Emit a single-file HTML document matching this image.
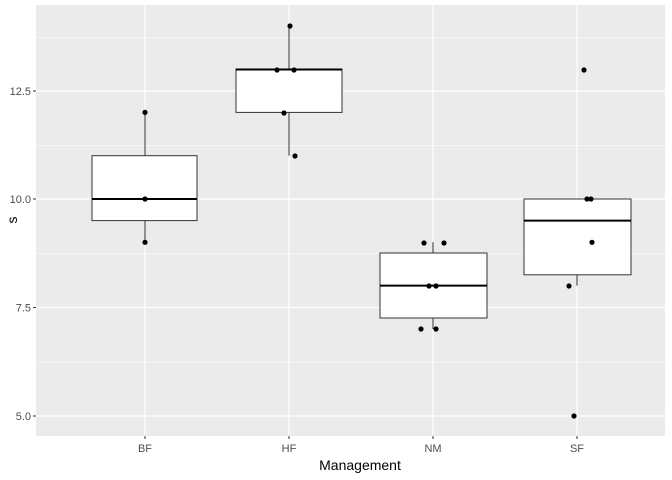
<!DOCTYPE html>
<html><head><meta charset="utf-8"><style>body{margin:0;background:#fff}svg{display:block;font-family:"Liberation Sans",sans-serif}</style></head><body>
<svg width="672" height="480" viewBox="0 0 672 480">
<rect x="0" y="0" width="672" height="480" fill="#fff"/>
<rect x="36" y="5" width="629" height="431" fill="#ebebeb"/>
<g stroke="#fff" stroke-width="0.6">
<line x1="36" x2="665" y1="37.5" y2="37.5"/><line x1="36" x2="665" y1="145.5" y2="145.5"/><line x1="36" x2="665" y1="253.5" y2="253.5"/><line x1="36" x2="665" y1="362" y2="362"/>
</g>
<g stroke="#fff" stroke-width="1.2">
<line x1="36" x2="665" y1="91" y2="91"/><line x1="36" x2="665" y1="199" y2="199"/><line x1="36" x2="665" y1="307.5" y2="307.5"/><line x1="36" x2="665" y1="416" y2="416"/>
<line x1="145" x2="145" y1="5" y2="436"/><line x1="289" x2="289" y1="5" y2="436"/><line x1="433" x2="433" y1="5" y2="436"/><line x1="577" x2="577" y1="5" y2="436"/>
</g>
<g stroke="#333" stroke-width="1" fill="#fff">
<line x1="145" x2="145" y1="112.4" y2="242.3"/>
<rect x="92" y="155.7" width="105" height="64.9"/>
<line x1="289" x2="289" y1="25.8" y2="155.7"/>
<rect x="236" y="69" width="106" height="43.4"/>
<line x1="433" x2="433" y1="242.3" y2="329"/>
<rect x="380" y="253" width="107" height="65"/>
<line x1="577" x2="577" y1="199" y2="285.6"/>
<rect x="524" y="199" width="107" height="75.8"/>
</g>
<g stroke="#000" stroke-width="2">
<line x1="92" x2="197" y1="199" y2="199"/>
<line x1="236" x2="342" y1="69.5" y2="69.5"/>
<line x1="380" x2="487" y1="285.6" y2="285.6"/>
<line x1="524" x2="631" y1="220.6" y2="220.6"/>
</g>
<g fill="#000">
<circle cx="145" cy="242.3" r="2.6"/><circle cx="145" cy="199" r="2.6"/><circle cx="145" cy="112.4" r="2.6"/>
<circle cx="277" cy="70" r="2.6"/><circle cx="294" cy="70" r="2.6"/><circle cx="284" cy="113" r="2.6"/><circle cx="290" cy="26" r="2.6"/><circle cx="295" cy="156" r="2.6"/>
<circle cx="424" cy="243" r="2.6"/><circle cx="444" cy="243" r="2.6"/><circle cx="429" cy="286" r="2.6"/><circle cx="436" cy="286" r="2.6"/><circle cx="421" cy="329" r="2.6"/><circle cx="436" cy="329" r="2.6"/>
<circle cx="584" cy="70" r="2.6"/><circle cx="587" cy="199" r="2.6"/><circle cx="591" cy="199" r="2.6"/><circle cx="592" cy="242.3" r="2.6"/><circle cx="569" cy="286" r="2.6"/><circle cx="574" cy="416" r="2.6"/>
</g>
<g stroke="#333" stroke-width="1">
<line x1="33" x2="36" y1="91" y2="91"/><line x1="33" x2="36" y1="199" y2="199"/><line x1="33" x2="36" y1="307.5" y2="307.5"/><line x1="33" x2="36" y1="416" y2="416"/>
<line x1="145" x2="145" y1="436" y2="439"/><line x1="289" x2="289" y1="436" y2="439"/><line x1="433" x2="433" y1="436" y2="439"/><line x1="577" x2="577" y1="436" y2="439"/>
</g>
<g fill="#4d4d4d" font-size="11" text-anchor="end">
<text x="31" y="95">12.5</text><text x="31" y="203">10.0</text><text x="31" y="311.5">7.5</text><text x="31" y="420">5.0</text>
</g>
<g fill="#4d4d4d" font-size="11" text-anchor="middle">
<text x="145" y="452">BF</text><text x="289" y="452">HF</text><text x="433" y="452">NM</text><text x="577" y="452">SF</text>
</g>
<text x="360" y="470" font-size="14" text-anchor="middle" fill="#000">Management</text>
<text transform="translate(17,220) rotate(-90)" font-size="14" text-anchor="middle" fill="#000">s</text>
</svg>
</body></html>
